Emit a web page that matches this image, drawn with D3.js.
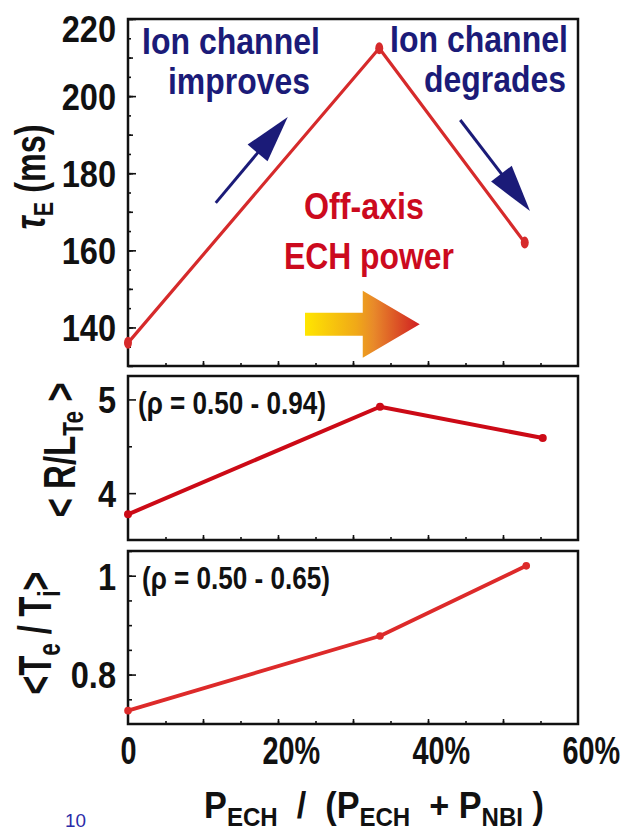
<!DOCTYPE html>
<html><head><meta charset="utf-8">
<script src="https://cdn.jsdelivr.net/npm/d3@7"></script>
<style>body{margin:0;background:#fff}svg{display:block}</style>
</head><body>
<svg id="c" width="624" height="833"></svg>
<script>
// ---------- data ----------
const xTickLabels = [0, 20, 40, 60];
const tauX = [0, 33.5, 52.9];
const tauY = [136.0, 212.4, 162.0];
const rltX = [0, 33.6, 55.3];
const rltY = [3.774, 4.922, 4.588];
const teX  = [0, 33.6, 53.1];
const teY  = [0.727, 0.878, 1.020];
const tauTicks = [140, 160, 180, 200, 220];
const rltTicks = [4, 5];
const teTicks  = [0.8, 1];

// ---------- setup ----------
const FONT = "'Liberation Sans', Arial, Helvetica, sans-serif";
const svg = d3.select("#c");
const x = d3.scaleLinear().domain([0, 60]).range([128, 578]);

function richText(parent, o) {
  const g = parent.append("g").attr("transform", `translate(${o.x},${o.y}) rotate(${o.rot||0})`);
  const t = g.append("text").attr("text-anchor", o.anchor || "start")
    .attr("font-family", o.family || FONT).attr("font-weight", o.weight || "bold")
    .attr("font-size", o.size).attr("fill", o.fill || "#111")
    .attr("xml:space", "preserve").style("white-space", "pre");
  let shift = 0;
  o.parts.forEach(p => {
    const s = Array.isArray(p) ? p[0] : p;
    const opt = Array.isArray(p) ? (p[1] || {}) : {};
    const target = opt.dy || 0;
    const ts = t.append("tspan").text(s).attr("dy", target - shift);
    if (opt.size) ts.attr("font-size", opt.size);
    if (opt.italic) ts.attr("font-style", "italic");
    shift = target;
  });
  if (o.width) {
    const w = t.node().getComputedTextLength();
    t.attr("transform", `scale(${o.width / w},1)`);
  }
  return t;
}

const panels = [
  {top: 19, bottom: 366, domain: [130, 220], X: tauX, Y: tauY, ticks: tauTicks,
   minor: [d3.range(135, 220, 5), 3], mid: [d3.range(130, 221, 10), 5],
   color: "#d62a2b", lw: 3.2, rx: 4, ry: 6},
  {top: 376, bottom: 540, domain: [3.5, 5.25], X: rltX, Y: rltY, ticks: rltTicks,
   minor: [[4.5], 4], mid: [[], 4],
   color: "#cc0a16", lw: 4, rx: 4, ry: 4},
  {top: 551, bottom: 724, domain: [0.7, 1.05], X: teX, Y: teY, ticks: teTicks,
   minor: [d3.range(0.75, 1.05, 0.05), 4], mid: [[], 4],
   color: "#dd2a2a", lw: 3.8, rx: 3.8, ry: 3.8}
];

panels.forEach((p, i) => {
  const y = d3.scaleLinear().domain(p.domain).range([p.bottom, p.top]);
  p.y = y;
  const g = svg.append("g");
  g.append("rect").attr("x", x(0)).attr("y", p.top)
    .attr("width", x(60) - x(0)).attr("height", p.bottom - p.top)
    .attr("fill", "none").attr("stroke", "#111").attr("stroke-width", 2.5);

  const tickStyle = sel => {
    sel.select(".domain").remove();
    sel.selectAll("line").attr("stroke", "#111").attr("stroke-width", 1.6);
  };
  [p.minor, p.mid].forEach(([vals, len]) => {
    g.append("g").attr("transform", `translate(${x(0)},0)`)
      .call(d3.axisLeft(y).tickValues(vals).tickSize(-len).tickFormat(""))
      .call(tickStyle);
  });
  const sy = 0.88;
  const ya = g.append("g").attr("transform", `translate(${x(0)},0)`)
    .call(d3.axisLeft(y).tickValues(p.ticks).tickSize(-8).tickFormat(d3.format("~g")))
    .call(tickStyle);
  ya.selectAll("text").attr("font-family", FONT).attr("font-weight", "bold")
    .attr("font-size", 37).attr("fill", "#111").attr("text-anchor", "end")
    .attr("x", -12 / sy).attr("dy", d => d === p.domain[1] ? "0.6em" : "0.36em")
    .attr("transform", `scale(${sy},1)`);

  [[d3.range(5, 60, 5), 3], [d3.range(10, 60, 10), 5]].forEach(([vals, len]) => {
    g.append("g").attr("transform", `translate(0,${p.bottom})`)
      .call(d3.axisBottom(x).tickValues(vals).tickSize(-len).tickFormat(""))
      .call(tickStyle);
  });

  const pts = p.X.map((d, k) => [d, p.Y[k]]);
  g.append("path").datum(pts)
    .attr("d", d3.line().x(d => x(d[0])).y(d => y(d[1])))
    .attr("fill", "none").attr("stroke", p.color).attr("stroke-width", p.lw)
    .attr("stroke-linejoin", "round");
  g.selectAll("ellipse").data(pts).join("ellipse")
    .attr("cx", d => x(d[0])).attr("cy", d => y(d[1]))
    .attr("rx", p.rx).attr("ry", p.ry).attr("fill", p.color);
});

// x tick labels on bottom panel
const bp = panels[2];
const sx = 0.74;
const xa = svg.append("g").attr("transform", `translate(0,${bp.bottom})`)
  .call(d3.axisBottom(x).tickValues(xTickLabels).tickSize(0)
        .tickFormat(d => d === 0 ? "0" : d + "%"));
xa.select(".domain").remove();
xa.selectAll("text").attr("font-family", FONT).attr("font-weight", "bold")
  .attr("font-size", 39).attr("fill", "#111").attr("y", 40).attr("dy", 0)
  .attr("text-anchor", "start")
  .each(function(d) {
    const n = String(d).length;
    const nw = this.getSubStringLength(0, n);
    d3.select(this).attr("x", -nw / 2).attr("transform", `scale(${sx},1)`);
  });

// ---------- axis titles ----------
richText(svg, {x: 45, y: 177, rot: -90, anchor: "middle", size: 42, width: 105,
  parts: [["τ", {italic: true}], ["E", {size: 28, dy: 8}], [" (ms)", {dy: 0}]]});
richText(svg, {x: 75, y: 450, rot: -90, anchor: "middle", size: 44, width: 135,
  parts: ["< R/L", ["Te", {size: 30, dy: 8}], [" >", {dy: 0}]]});
richText(svg, {x: 51, y: 633, rot: -90, anchor: "middle", size: 46, width: 123,
  parts: ["<T", ["e", {size: 32, dy: 9}], [" / T", {dy: 0}], ["i", {size: 32, dy: 9}], [">", {dy: 0}]]});
richText(svg, {x: 374, y: 818, anchor: "middle", size: 37, width: 340,
  parts: ["P", ["ECH", {size: 26, dy: 8}], ["  /  (P", {dy: 0}], ["ECH", {size: 26, dy: 8}],
          ["  + P", {dy: 0}], ["NBI", {size: 26, dy: 8}], [" )", {dy: 0}]]});

// ---------- annotations ----------
const NAVY = "#1b1b78", RED = "#cc0a1e";
richText(svg, {x: 142, y: 54, size: 37, width: 178, fill: NAVY, parts: ["Ion channel"]});
richText(svg, {x: 168, y: 94, size: 37, width: 142, fill: NAVY, parts: ["improves"]});
richText(svg, {x: 390, y: 52, size: 37, width: 178, fill: NAVY, parts: ["Ion channel"]});
richText(svg, {x: 424, y: 92, size: 37, width: 142, fill: NAVY, parts: ["degrades"]});
richText(svg, {x: 304, y: 219, size: 37, width: 120, fill: RED, parts: ["Off-axis"]});
richText(svg, {x: 284, y: 269, size: 37, width: 170, fill: RED, parts: ["ECH power"]});
richText(svg, {x: 138, y: 414, size: 31, width: 188, parts: ["(ρ = 0.50 - 0.94)"]});
richText(svg, {x: 142, y: 589, size: 31, width: 188, parts: ["(ρ = 0.50 - 0.65)"]});
richText(svg, {x: 65, y: 827, size: 18, width: 21, weight: "normal", fill: "#2b2ba8", parts: ["10"]});

// blue arrows (in data units of the top panel)
const ty = panels[0].y;
function blueArrow(from, to) {
  const p0 = [x(from[0]), ty(from[1])], p1 = [x(to[0]), ty(to[1])];
  const dx = p1[0] - p0[0], dy = p1[1] - p0[1], L = Math.hypot(dx, dy);
  const u = [dx / L, dy / L], n = [-u[1], u[0]];
  const hl = 47, hw = 13;
  const b = [p1[0] - u[0] * hl, p1[1] - u[1] * hl];
  svg.append("line").attr("x1", p0[0]).attr("y1", p0[1])
    .attr("x2", b[0] + u[0] * 4).attr("y2", b[1] + u[1] * 4)
    .attr("stroke", NAVY).attr("stroke-width", 3);
  svg.append("path").attr("d",
    `M${p1[0]},${p1[1]}L${b[0] + n[0] * hw},${b[1] + n[1] * hw}L${b[0] - n[0] * hw},${b[1] - n[1] * hw}Z`)
    .attr("fill", NAVY);
}
blueArrow([11.7, 172.3], [21.3, 194.6]);
blueArrow([44.3, 193.8], [53.6, 170.2]);

// gradient arrow
const defs = svg.append("defs");
const xs0 = x(23.6), xh = x(31.3), xt = x(38.9), yc = ty(140.8);
const grad = defs.append("linearGradient").attr("id", "ga")
  .attr("gradientUnits", "userSpaceOnUse")
  .attr("x1", xs0).attr("x2", xt).attr("y1", 0).attr("y2", 0);
[[0, "#ffe600"], [0.45, "#f0a818"], [0.6, "#e8892a"], [1, "#d01e22"]].forEach(([o, c]) =>
  grad.append("stop").attr("offset", o).attr("stop-color", c));
svg.append("path").attr("d",
  `M${xs0},${yc - 11.5}L${xh},${yc - 11.5}L${xh},${yc - 33.5}L${xt},${yc}L${xh},${yc + 33.5}L${xh},${yc + 11.5}L${xs0},${yc + 11.5}Z`)
  .attr("fill", "url(#ga)");
</script>
</body></html>
